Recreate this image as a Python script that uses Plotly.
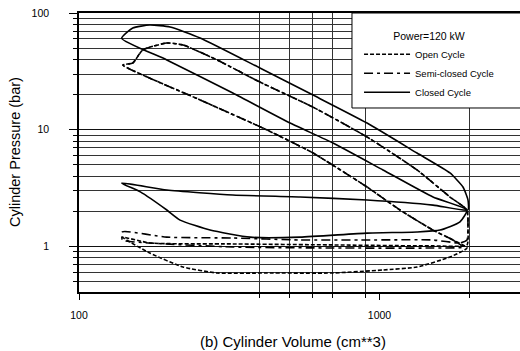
import plotly.graph_objects as go

# Cylinder volume (cm**3) and pressure (bar) around each engine cycle, 120 kW.
# Order: compression -> combustion -> expansion -> blowdown -> exhaust -> intake

open_v = [1955, 1756, 1507, 1170, 909, 601, 422.5, 253, 140,
          151, 163, 196, 222,
          288, 400, 601, 909, 1333, 1716, 1955, 1970, 1955,
          1507, 700, 325, 172, 139.5,
          172, 222, 288, 422.5, 700, 1027, 1333, 1716, 1955]
open_p = [0.969, 1.135, 1.38, 2.05, 3.23, 6.31, 9.94, 18.0, 35.8,
          37.3, 48.2, 55.3, 53.2,
          39.6, 25.6, 15.6, 8.66, 4.52, 2.65, 2.05, 1.44, 1.03,
          1.01, 1.03, 1.05, 1.07, 1.20,
          0.878, 0.666, 0.592, 0.592, 0.592, 0.628, 0.666, 0.811, 0.969]

semi_v = [1896, 1756, 1507, 1170, 909, 601, 422.5, 253, 140,
          151, 163, 196, 222,
          288, 400, 601, 909, 1333, 1716, 1955, 1970, 1955,
          1853, 1507, 909, 544, 325, 196, 139.5,
          139.5, 172, 325, 700, 1507, 1896]
semi_p = [0.988, 1.135, 1.38, 2.05, 3.23, 6.31, 9.94, 18.0, 35.8,
          37.3, 48.2, 55.3, 53.2,
          39.6, 25.6, 15.6, 8.66, 4.52, 2.65, 2.05, 1.52, 1.135,
          1.07, 1.135, 1.135, 1.135, 1.18, 1.20, 1.33,
          1.135, 1.07, 0.988, 0.969, 0.969, 0.988]

closed_v = [1955, 1507, 1027, 700, 504, 325, 196, 138.7,
            151, 172, 201,
            253, 400, 601, 909, 1333, 1716, 1896, 1970, 1970,
            1507, 909, 544, 325, 196, 138.7,
            160, 196, 217, 273, 371, 544, 909, 1333, 1590, 1853, 1955]
closed_p = [2.05, 2.65, 4.52, 7.69, 11.4, 20.6, 39.6, 60.7,
            74.4, 78.9, 75.9,
            61.1, 33.8, 19.8, 11.4, 6.31, 4.26, 3.23, 2.50, 2.05,
            2.26, 2.50, 2.65, 2.76, 3.04, 3.49,
            2.93, 2.05, 1.68, 1.38, 1.20, 1.20, 1.30, 1.33, 1.38, 1.62, 2.05]

series_names = ["Open Cycle", "Semi-closed Cycle", "Closed Cycle"]
series_dash = ["4px,2px", "9px,4px,3px,4px", "solid"]

# Axis ticks and grid
x_ticks = [100, 1000]
x_labels = ["100", "1000"]
x_grid = [400, 500, 600, 700, 900, 2000]
y_ticks = [1, 10, 100]
y_labels = ["1", "10", "100"]
y_grid = [0.5, 0.6, 0.7, 0.8, 0.9, 2, 3, 4, 5, 6, 7, 8, 9,
          20, 30, 40, 50, 60, 70, 80, 90]

FONT = "Arial, Liberation Sans, sans-serif"

fig = go.Figure()
for name, dash, vx, py in zip(series_names, series_dash,
                              [open_v, semi_v, closed_v],
                              [open_p, semi_p, closed_p]):
    fig.add_trace(go.Scatter(
        x=vx, y=py, name=name, mode="lines",
        line=dict(color="black", width=1.6, dash=dash,
                  shape="spline", smoothing=0.5),
    ))

fig.update_layout(
    width=520, height=351,
    margin=dict(l=79, r=0, t=13, b=59),
    paper_bgcolor="white", plot_bgcolor="white",
    font=dict(family=FONT, color="black", size=10),
    showlegend=True,
    legend=dict(
        x=0.635, y=0.953, xanchor="left", yanchor="top",
        bgcolor="rgba(0,0,0,0)", borderwidth=0,
        font=dict(size=9.5, family=FONT),
        title=dict(text="Power=120 kW", side="top center",
                   font=dict(size=10.5, family=FONT)),
        itemwidth=46, tracegroupgap=0,
    ),
    xaxis=dict(
        type="log", range=[2, 3.4676],
        tickvals=x_ticks, ticktext=x_labels,
        ticks="outside", ticklen=6, tickcolor="black",
        ticklabelstandoff=7,
        showgrid=False, zeroline=False,
        showline=True, linecolor="black", linewidth=1.5, mirror=True,
        minor=dict(tickvals=x_grid, showgrid=True, gridcolor="#333",
                   gridwidth=1, ticks="outside", ticklen=4,
                   tickcolor="black"),
        tickfont=dict(size=10.5),
    ),
    yaxis=dict(
        type="log", range=[-0.3907, 2],
        tickvals=y_ticks, ticktext=y_labels,
        ticks="outside", ticklen=8, tickcolor="black",
        ticklabelstandoff=18,
        showgrid=True, gridcolor="#111", gridwidth=1.4,
        zeroline=False,
        showline=True, linecolor="black", linewidth=1.5, mirror=False,
        minor=dict(tickvals=y_grid, showgrid=True, gridcolor="#333",
                   gridwidth=1, ticks="outside", ticklen=4,
                   tickcolor="black"),
        tickfont=dict(size=10.5),
    ),
    shapes=[dict(type="rect", xref="paper", yref="paper",
                 x0=0.619, x1=1.02, y0=0.6595, y1=1.0,
                 fillcolor="white", line=dict(color="black", width=1),
                 layer="above")],
    annotations=[
        dict(text="(b) Cylinder Volume (cm**3)", xref="paper", yref="paper",
             x=0.485, y=-0.179, showarrow=False,
             xanchor="center", yanchor="middle",
             font=dict(size=15, family=FONT)),
        dict(text="Cylinder Pressure (bar)", xref="paper", yref="paper",
             x=-0.145, y=0.502, showarrow=False, textangle=-90,
             xanchor="center", yanchor="middle",
             font=dict(size=14.5, family=FONT)),
    ],
)

fig.write_html("out.html")
